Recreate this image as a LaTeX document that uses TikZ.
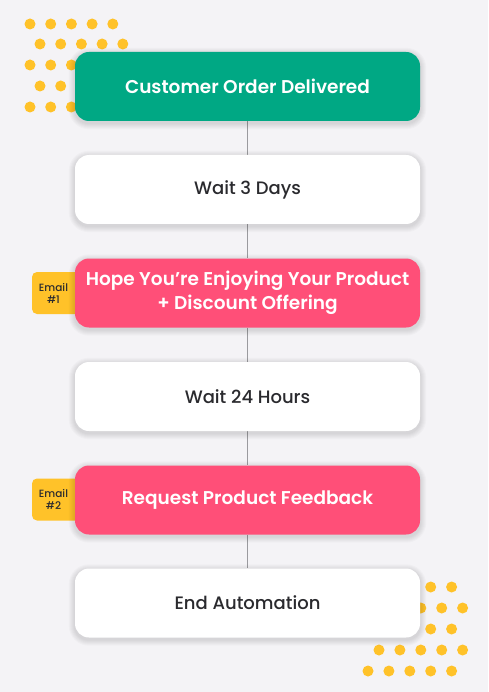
\documentclass[tikz,border=0pt]{standalone}
\usepackage{fontspec}
\setmainfont{Poppins}
\newfontfamily\medfont{Poppins Medium}
\newfontfamily\semifont{Poppins SemiBold}
\pgfdeclarelayer{bgl}
\pgfdeclarelayer{shl}
\pgfsetlayers{bgl,shl,main}
\definecolor{bg}{HTML}{F4F3F6}
\definecolor{grn}{HTML}{00A884}
\definecolor{pnk}{HTML}{FF4F78}
\definecolor{ylw}{HTML}{FFC229}
\definecolor{txt}{HTML}{2A2A2E}
\definecolor{lin}{HTML}{9A9A9E}
\tikzset{
  stepbox/.style={rectangle, rounded corners=14pt, minimum width=345pt, minimum height=69pt,
    inner sep=0pt, align=center},
  whitebox/.style={stepbox, fill=white, text=txt, font=\medfont\fontsize{18}{24}\selectfont},
  greenbox/.style={stepbox, fill=grn, text=white, font=\semifont\fontsize{18.5}{24}\selectfont},
  pinkbox/.style={stepbox, fill=pnk, text=white, font=\semifont\fontsize{18.5}{24}\selectfont},
  tag/.style={rectangle, rounded corners=5pt, fill=ylw, minimum width=58pt, minimum height=42pt, inner sep=0pt},
  tagtext/.style={text=txt, font=\medfont\fontsize{10.5}{12}\selectfont, align=center, inner sep=0pt},
  dot/.style={circle, fill=ylw, minimum size=11pt, inner sep=0pt},
  conn/.style={draw=lin, line width=1.3pt},
  softshadow/.style={fill=black, opacity=0.018}
}
\begin{document}
\begin{tikzpicture}[x=1pt, y=-1pt]
\begin{pgfonlayer}{bgl}
\fill[bg] (0,0) rectangle (488,692);
\end{pgfonlayer}
\useasboundingbox (0,0) rectangle (488,692);
% boxes
\node[greenbox] (b1) at (247.5,86.5) {Customer Order Delivered};
\node[whitebox] (b2) at (247.5,189.5) {Wait 3 Days};
\node[pinkbox] (b3) at (247.5,293) {Hope You’re Enjoying Your Product\\+ Discount Offering};
\node[whitebox] (b4) at (247.5,396.5) {Wait 24 Hours};
\node[pinkbox] (b5) at (247.5,500) {Request Product Feedback};
\node[whitebox] (b6) at (247.5,603) {End Automation};
\begin{pgfonlayer}{bgl}
% dots top-left
\foreach \r/\y in {0/24,1/44,2/65,3/86,4/107}{
  \pgfmathsetmacro{\xo}{mod(\r,2)==0 ? 30 : 40}
  \foreach \i in {0,...,4}{
    \node[dot] (tl\r\i) at (\xo+20.7*\i,\y) {};
  }
}
% dots bottom-right
\foreach \r/\y in {0/587,1/608,2/629,3/650,4/671}{
  \pgfmathsetmacro{\xo}{mod(\r,2)==0 ? 368 : 379}
  \foreach \i in {0,...,4}{
    \node[dot] (br\r\i) at (\xo+20.9*\i,\y) {};
  }
}
% tags
\node[tag] (tag1) at (61,293) {};
\node[tagtext] (tag1t) at (53.5,293) {Email\\\#1};
\node[tag] (tag2) at (61,499.5) {};
\node[tagtext] (tag2t) at (53.5,499.5) {Email\\\#2};
\draw[conn] (b1.south) -- (b2.north);
\draw[conn] (b2.south) -- (b3.north);
\draw[conn] (b3.south) -- (b4.north);
\draw[conn] (b4.south) -- (b5.north);
\draw[conn] (b5.south) -- (b6.north);
\end{pgfonlayer}
\begin{pgfonlayer}{shl}
\foreach \b in {b1,b2,b3,b4,b5,b6}{
  \foreach \k in {1,2,3,4,5,6}{
    \fill[softshadow, rounded corners=14pt+\k pt]
      ([shift={(-\k,-\k+2)}]\b.north west) rectangle ([shift={(\k,\k+2)}]\b.south east);
  }
}
\end{pgfonlayer}
\end{tikzpicture}
\end{document}
